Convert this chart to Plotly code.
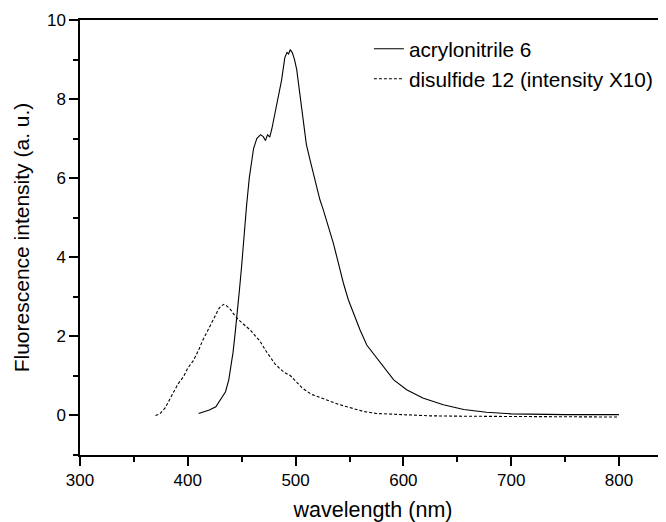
import plotly.graph_objects as go

# acrylonitrile 6 (solid)
wl_acr = [410, 420, 426, 431, 435, 438, 440, 442, 444, 446, 448, 450, 452, 454.5, 457, 459, 461, 464,
          467.5, 470, 472, 474, 476, 478, 481, 484, 487, 490, 492, 493.5, 495, 497, 499, 501, 503, 505,
          507.5, 510, 513.5, 518, 522.5, 525.7, 530.4, 535, 539.7, 544.3, 549, 553.6, 559.8, 566, 575.3,
          580, 591, 603, 618, 637, 656, 677, 700, 750, 800]
int_acr = [0.05, 0.14, 0.22, 0.42, 0.6, 0.9, 1.2, 1.6, 2.1, 2.6, 3.2, 3.8, 4.5, 5.3, 6.0, 6.45, 6.75, 7.0,
           7.1, 7.05, 6.95, 7.1, 7.04, 7.25, 7.65, 8.05, 8.48, 9.05, 9.18, 9.14, 9.25, 9.17, 9.0, 8.75, 8.35, 7.9,
           7.4, 6.85, 6.45, 5.96, 5.46, 5.2, 4.78, 4.36, 3.85, 3.35, 2.92, 2.59, 2.16, 1.78, 1.45,
           1.28, 0.9, 0.65, 0.44, 0.27, 0.15, 0.08, 0.04, 0.02, 0.02]

# disulfide 12 (dashed, intensity x10)
wl_dis = [370, 374, 379, 383, 387, 391, 396, 400, 405, 410, 414, 418, 422, 426, 429, 431, 433.5, 436,
          439, 443, 447, 452, 458, 463, 467, 472, 476, 481, 486, 490, 495, 500, 506, 511, 516, 524,
          532, 540, 549, 556, 563, 575, 594, 625, 660, 700, 750, 800]
int_dis = [0.0, 0.04, 0.19, 0.38, 0.6, 0.8, 0.98, 1.2, 1.38, 1.65, 1.91, 2.12, 2.33, 2.55, 2.71, 2.77, 2.81, 2.77,
           2.7, 2.55, 2.42, 2.3, 2.16, 2.0, 1.88, 1.65, 1.48, 1.3, 1.17, 1.08, 1.01, 0.88, 0.7, 0.6, 0.52, 0.44,
           0.35, 0.28, 0.21, 0.15, 0.1, 0.05, 0.02, -0.01, -0.02, -0.03, -0.04, -0.04]

labels = ["acrylonitrile 6", "disulfide 12 (intensity X10)"]
x_ticks = [300, 400, 500, 600, 700, 800]
y_ticks = [0, 2, 4, 6, 8, 10]

FONT = "Liberation Sans, Arial, sans-serif"

fig = go.Figure()
fig.add_trace(go.Scatter(x=wl_acr, y=int_acr, mode="lines", name=labels[0],
                         line=dict(color="black", width=1.1)))
fig.add_trace(go.Scatter(x=wl_dis, y=int_dis, mode="lines", name=labels[1],
                         line=dict(color="black", width=1.1, dash="3px,2px")))

axis_common = dict(showgrid=False, zeroline=False, showline=True, linecolor="black", linewidth=1.5,
                   ticks="outside", ticklen=9, tickwidth=1.5, tickcolor="black",
                   tickfont=dict(family=FONT, size=17, color="black"))

fig.update_xaxes(range=[300, 843.6], tickvals=x_ticks, mirror=True,
                 minor=dict(dtick=50, tick0=300, ticks="outside", ticklen=5, tickwidth=1.5, tickcolor="black"),
                 title=dict(text="wavelength (nm)", font=dict(family=FONT, size=21.5, color="black"), standoff=13),
                 **axis_common)
fig.update_yaxes(range=[-1, 10], tickvals=y_ticks, mirror=False,
                 minor=dict(dtick=1, tick0=0, ticks="outside", ticklen=5, tickwidth=1.5, tickcolor="black"),
                 title=dict(text="Fluorescence intensity (a. u.)", font=dict(family=FONT, size=21, color="black"), standoff=12),
                 **axis_common)

fig.update_layout(
    width=658, height=514,
    margin=dict(l=72, r=0, t=12, b=67, autoexpand=False),
    plot_bgcolor="white", paper_bgcolor="white",
    font=dict(family=FONT, color="black"),
    showlegend=True,
    legend=dict(x=0.493, y=0.98, xanchor="left", yanchor="top", bgcolor="rgba(0,0,0,0)",
                font=dict(family=FONT, size=20.8, color="black"), tracegroupgap=0),
)

fig.write_html("out.html")
